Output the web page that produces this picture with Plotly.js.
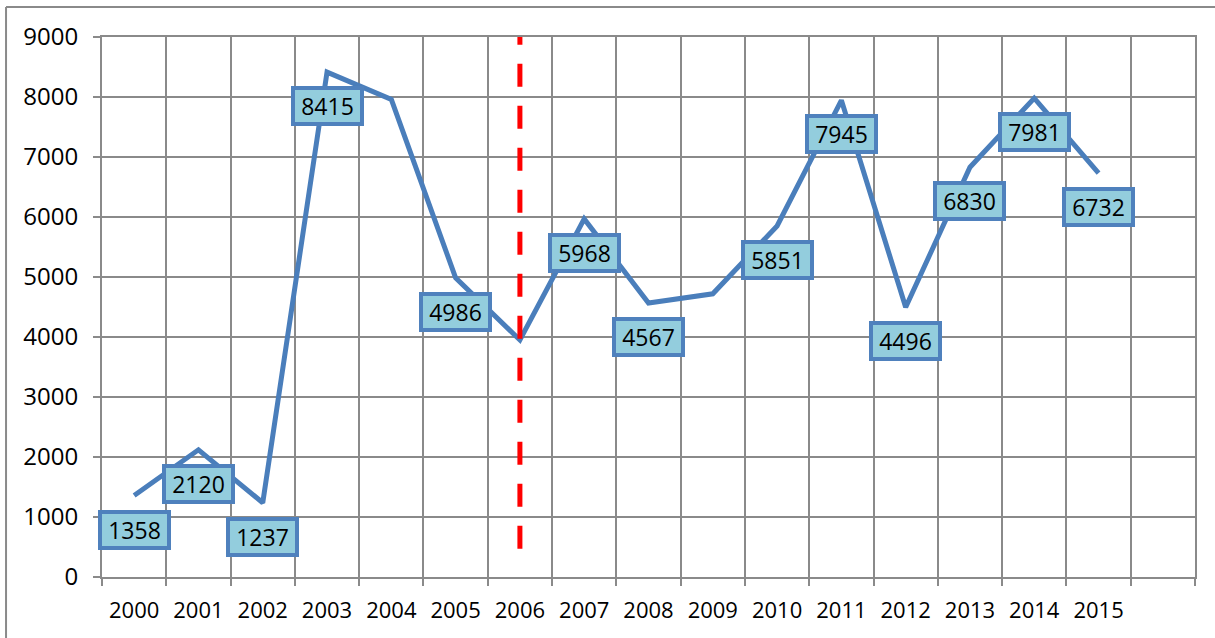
<!DOCTYPE html>
<html><head><meta charset="utf-8">
<script src="https://cdn.plot.ly/plotly-3.0.1.min.js"></script>
<style>html,body{margin:0;padding:0;background:#fff}#chart{width:1215px;height:638px}</style>
</head><body><div id="chart"></div>
<script>
const years = [2000,2001,2002,2003,2004,2005,2006,2007,2008,2009,2010,2011,2012,2013,2014,2015];
const values = [1358,2120,1237,8415,7960,4986,3950,5968,4567,4720,5851,7945,4496,6830,7981,6732];
const labelYears = [2000,2001,2002,2003,2005,2007,2008,2010,2011,2012,2013,2014,2015];
const yTickVals = [0,1000,2000,3000,4000,5000,6000,7000,8000,9000];
const refYear = 2006;
const refLineSpan = [470, 9000];

const gridColor = '#8a8a8a';
const lineBlue = '#4A7EBB';
const fontFam = '"Open Sans", "Noto Sans", sans-serif';

const trace = {
  x: years, y: values, type: 'scatter', mode: 'lines',
  line: {color: lineBlue, width: 5, shape: 'linear'},
  hoverinfo: 'x+y', showlegend: false
};
const labelTrace = {
  x: years, y: values, xaxis: 'x2', type: 'scatter', mode: 'lines',
  line: {color: 'rgba(0,0,0,0)', width: 0}, hoverinfo: 'skip', showlegend: false
};

const annotations = labelYears.map(yr => {
  const v = values[years.indexOf(yr)];
  return {
    x: yr, y: v, xref: 'x', yref: 'y', text: String(v), showarrow: false,
    yshift: -34, width: 65, height: 32, borderpad: 0, borderwidth: 4,
    bordercolor: '#4F81BD', bgcolor: '#93CDDD',
    font: {family: fontFam, size: 23, color: '#000'}
  };
});

const layout = {
  width: 1215, height: 638,
  margin: {l: 102, r: 20, t: 37, b: 61, pad: 0},
  paper_bgcolor: '#fff', plot_bgcolor: '#fff',
  xaxis: {
    range: [years[0]-0.5, years[years.length-1]+1.5],
    tick0: years[0]-0.5, dtick: 1, tickmode: 'linear',
    showticklabels: false, ticks: 'outside', ticklen: 7, tickwidth: 2, tickcolor: gridColor,
    showgrid: true, gridcolor: gridColor, gridwidth: 2,
    showline: true, linecolor: gridColor, linewidth: 2, mirror: true,
    zeroline: false, fixedrange: true
  },
  xaxis2: {
    overlaying: 'x', matches: 'x', side: 'bottom',
    tickmode: 'array', tickvals: years, ticktext: years.map(String),
    ticks: '', showgrid: false, showline: false, zeroline: false,
    ticklabelstandoff: 18,
    tickfont: {family: fontFam, size: 22, color: '#000'}
  },
  yaxis: {
    range: [0, 9000], tickmode: 'array', tickvals: yTickVals,
    ticks: 'outside', ticklen: 7, tickwidth: 2, tickcolor: gridColor,
    ticklabelstandoff: 10,
    tickfont: {family: fontFam, size: 24, color: '#000'},
    showgrid: true, gridcolor: gridColor, gridwidth: 2,
    showline: true, linecolor: gridColor, linewidth: 2, mirror: true,
    zeroline: false, fixedrange: true
  },
  shapes: [
    {type: 'line', xref: 'x', yref: 'y', x0: refYear, x1: refYear, y0: refLineSpan[0], y1: refLineSpan[1],
     line: {color: '#FF0000', width: 5, dash: '23px,19px'}},
    {type: 'line', xref: 'paper', yref: 'paper', x0: -0.0878, x1: 1.05, y0: 1.0556, y1: 1.0556,
     line: {color: gridColor, width: 2}},
    {type: 'line', xref: 'paper', yref: 'paper', x0: -0.0878, x1: -0.0878, y0: 1.0556, y1: -0.2,
     line: {color: gridColor, width: 2}}
  ],
  annotations: annotations
};

Plotly.newPlot('chart', [trace, labelTrace], layout, {displayModeBar: false, staticPlot: true});
</script>
</body></html>
